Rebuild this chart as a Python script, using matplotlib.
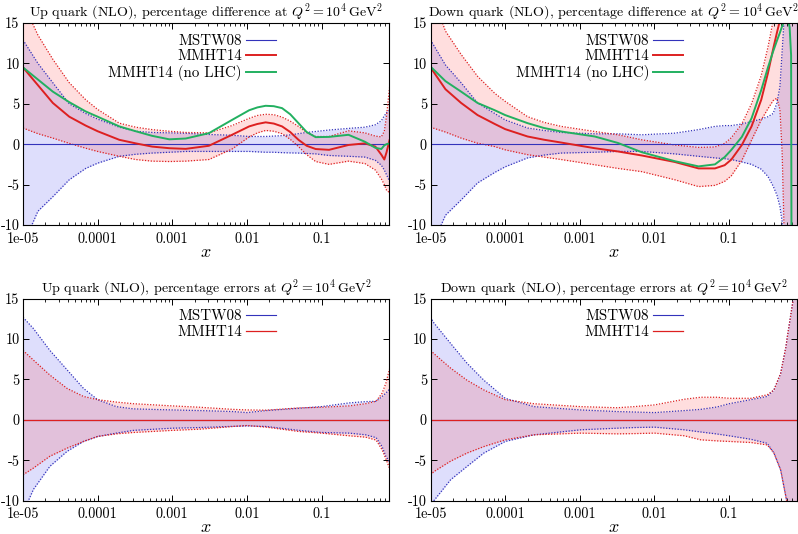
import matplotlib
matplotlib.use("Agg")
import matplotlib.pyplot as plt
import numpy as np

## MSTW08 vs MMHT14 (NLO), up/down quark at Q^2 = 10^4 GeV^2

plt.rcParams['font.family'] = 'serif'
plt.rcParams['font.serif'] = ['cmr10']
plt.rcParams['mathtext.fontset'] = 'cm'
plt.rcParams['axes.unicode_minus'] = False
plt.rcParams['axes.formatter.use_mathtext'] = True

# ---- up quark, percentage difference (log10 x grid) ----
lx_tl = [-5, -4.8, -4.6, -4.38, -4.16, -4.0, -3.71, -3.49, -3.27, -3.04, -2.82, -2.51, -2.2,
         -1.97, -1.86, -1.75, -1.64, -1.53, -1.42, -1.31, -1.2, -1.08, -0.9, -0.64, -0.42,
         -0.28, -0.2, -0.16, -0.13, -0.09]
mstw_hi_tl = [12.9, 10.0, 7.6, 5.0, 3.8, 3.1, 2.1, 1.6, 1.45, 1.4, 1.35, 1.2, 1.1,
              0.95, 0.95, 0.95, 1.0, 1.05, 1.15, 1.3, 1.45, 1.57, 1.75, 1.95, 2.1,
              2.4, 2.9, 3.5, 3.9, 4.2]
mstw_lo_tl = [-12.5, -8.3, -6.5, -4.4, -3.0, -2.35, -1.5, -1.25, -1.1, -1.0, -0.9, -0.9, -0.9,
              -0.9, -0.95, -1.0, -1.0, -1.05, -1.08, -1.1, -1.15, -1.2, -1.4, -1.5, -1.6,
              -2.0, -2.6, -3.2, -3.8, -4.6]
mmht_hi_tl = [17.5, 13.5, 10.5, 7.6, 5.5, 4.3, 2.6, 2.1, 1.8, 1.6, 1.45, 1.4, 2.3,
              3.2, 3.55, 3.7, 3.65, 3.35, 2.85, 2.2, 1.45, 0.95, 0.95, 1.65, 1.4,
              1.0, 0.9, 1.6, 3.5, 7.0]
mmht_lo_tl = [2.0, 1.3, 0.75, 0.1, -0.5, -0.9, -1.5, -1.9, -2.1, -2.15, -2.1, -1.9, -0.6,
              0.9, 1.4, 1.7, 1.6, 1.3, 0.6, -0.3, -1.3, -2.15, -2.5, -2.1, -2.4,
              -3.2, -4.3, -5.0, -5.7, -6.0]
mmht_tl = [9.5, 7.3, 5.1, 3.4, 2.3, 1.6, 0.54, 0.1, -0.3, -0.5, -0.58, -0.2, 1.16,
           2.2, 2.5, 2.7, 2.55, 2.2, 1.5, 0.54, -0.2, -0.6, -0.7, -0.1, 0.1,
           -0.3, -1.3, -1.9, -1.0, 0.5]
nolhc_tl = [9.5, 8.0, 6.5, 5.2, 4.05, 3.4, 2.2, 1.6, 1.03, 0.6, 0.7, 1.36, 3.0,
            4.2, 4.55, 4.75, 4.7, 4.46, 3.7, 2.6, 1.5, 0.87, 0.9, 1.16, 0.3,
            -0.45, -0.6, -0.15, 0.0, 0.1]

# ---- down quark, percentage difference ----
lx_tr = [-5, -4.8, -4.59, -4.37, -4.14, -4.0, -3.7, -3.48, -3.25, -2.8, -2.49, -2.17, -1.73,
         -1.41, -1.19, -1.06, -0.97, -0.83, -0.70, -0.57, -0.48, -0.41, -0.36, -0.32, -0.29,
         -0.26, -0.23, -0.19, -0.17, -0.165, -0.08]
mstw_hi_tr = [12.9, 9.8, 7.6, 5.1, 3.8, 3.0, 2.0, 1.7, 1.45, 1.28, 1.28, 1.16, 1.36,
              1.8, 2.2, 2.3, 2.3, 2.5, 2.8, 3.1, 3.4, 3.8, 5.1, 7.1, 11.5,
              16, 22, 25, 25, 25, 25]
mstw_lo_tr = [-13, -8.8, -6.9, -4.8, -3.5, -2.8, -1.7, -1.35, -1.1, -1.0, -0.9, -0.9, -1.2,
              -1.5, -1.7, -1.8, -1.9, -2.2, -2.5, -3.1, -4.0, -5.2, -6.3, -7.7, -9.6,
              -13, -16, -20, -20, -20, -20]
mmht_hi_tr = [19, 14.0, 11.1, 8.4, 6.3, 5.3, 3.4, 2.7, 2.2, 1.57, 1.16, 0.54, -0.1,
              -0.4, -0.35, 0.1, 0.8, 2.5, 5.0, 8.5, 12.0, 15.3, 18, 21, 25,
              25, 25, 25, 25, 25, 25]
mmht_lo_tr = [2.1, 1.5, 0.75, 0.12, -0.3, -0.7, -1.3, -1.6, -1.9, -2.55, -3.0, -3.4, -4.4,
              -5.25, -5.1, -4.6, -3.9, -2.0, 0.5, 3.0, 4.4, 5.4, 5.7, 4.3, -1.0,
              -12, -16, -20, -20, -20, -20]
mmht_tr = [9.5, 6.8, 5.1, 3.6, 2.5, 1.86, 0.95, 0.55, 0.2, -0.5, -0.9, -1.4, -2.2,
           -3.0, -3.0, -2.6, -1.9, -0.1, 2.2, 5.5, 8.8, 11.8, 13.8, 15.3, 17,
           20, 20, 20, 20, 20, 20]
nolhc_tr = [9.6, 7.8, 6.5, 5.1, 4.2, 3.6, 2.6, 2.0, 1.57, 0.95, 0.15, -1.0, -2.1,
            -2.75, -2.5, -1.6, -0.7, 0.9, 3.2, 6.7, 9.5, 11.5, 12.8, 13.8, 14.6,
            15.3, 16.0, 14.5, 11.0, -12, -12]

# ---- up quark, percentage errors ----
lx_bl = [-5, -4.86, -4.64, -4.41, -4.19, -4.0, -3.75, -3.52, -3.0, -2.63, -2.19, -2.0,
         -1.74, -1.3, -1.0, -0.63, -0.41, -0.27, -0.19, -0.14, -0.09]
mstw_hi_bl = [12.7, 11.3, 8.6, 6.2, 3.9, 2.5, 1.64, 1.36, 1.23, 1.15, 1.03, 0.9,
              1.15, 1.44, 1.64, 2.1, 2.26, 2.3, 2.9, 3.3, 3.8]
mstw_lo_bl = [-11.5, -8.6, -5.75, -3.9, -2.67, -2.05, -1.64, -1.3, -1.03, -0.95, -0.8, -0.74,
              -0.82, -1.3, -1.56, -1.64, -1.85, -2.2, -3.3, -4.5, -5.2]
mmht_hi_bl = [8.6, 7.4, 5.55, 3.9, 2.9, 2.5, 2.2, 2.0, 1.73, 1.56, 1.3, 1.23,
              1.2, 1.48, 1.56, 1.73, 2.0, 2.3, 3.3, 4.5, 6.3]
mmht_lo_bl = [-6.8, -5.96, -4.5, -3.5, -2.67, -2.05, -1.73, -1.56, -1.3, -1.15, -0.82, -0.7,
              -0.9, -1.44, -1.64, -1.97, -2.14, -2.5, -3.7, -4.8, -6.0]

# ---- down quark, percentage errors ----
lx_br = [-5, -4.955, -4.73, -4.51, -4.285, -4.0, -3.615, -2.99, -2.5, -2.27, -2.0, -1.6,
         -1.38, -1.16, -1.0, -0.71, -0.49, -0.40, -0.31, -0.24, -0.22, -0.13, -0.08]
mstw_hi_br = [12.7, 12.0, 9.45, 7.0, 4.9, 2.67, 1.64, 1.23, 1.03, 0.97, 0.9, 1.15,
              1.3, 1.6, 2.0, 2.5, 2.9, 3.7, 5.75, 9.0, 10.3, 15.6, 20]
mstw_lo_br = [-11, -10, -7.4, -5.75, -4.1, -2.67, -1.85, -1.23, -1.03, -0.95, -0.9, -1.23,
              -1.5, -1.75, -1.97, -2.4, -2.9, -4.1, -6.2, -9.5, -10.5, -16, -20]
mmht_hi_br = [8.6, 8.2, 6.4, 4.9, 3.7, 2.5, 2.0, 1.64, 1.5, 1.64, 1.85, 2.55,
              2.8, 2.8, 2.67, 2.67, 3.1, 3.7, 5.75, 9.0, 10.3, 15.6, 20]
mmht_lo_br = [-6.8, -6.4, -5.1, -4.1, -3.3, -2.47, -1.85, -1.64, -1.73, -1.7, -1.64, -1.97,
              -2.47, -2.6, -2.67, -2.8, -3.1, -4.1, -6.2, -9.5, -10.5, -16, -20]

xticks = [1e-5, 1e-4, 1e-3, 1e-2, 1e-1]
xtick_labels = ['1e-05', '0.0001', '0.001', '0.01', '0.1']
yticks = [-10, -5, 0, 5, 10, 15]
ytick_labels = ['-10', '-5', '0', '5', '10', '15']

blue = '#3333bb'
red = '#dd2020'
green = '#22b060'
dots = (0, (1, 1.3))


def panel(ax, title, lx, mstw_lo, mstw_hi, mmht_lo, mmht_hi, mmht=None, nolhc=None):
    x = 10.0 ** np.array(lx)
    zero = np.zeros(len(x))
    ax.fill_between(x, mstw_lo, mstw_hi, color='#0000ee', alpha=0.13, lw=0)
    ax.fill_between(x, mmht_lo, mmht_hi, color='#ff0000', alpha=0.13, lw=0)
    ax.plot(x, mstw_hi, color=blue, lw=0.9, ls=dots)
    ax.plot(x, mstw_lo, color=blue, lw=0.9, ls=dots)
    ax.plot(x, mmht_hi, color=red, lw=0.9, ls=dots)
    ax.plot(x, mmht_lo, color=red, lw=0.9, ls=dots)
    if mmht is None:
        ax.plot(x, zero, color=blue, lw=0.8, label='MSTW08')
        ax.plot(x, zero, color=red, lw=0.9, label='MMHT14')
    else:
        ax.plot(x, zero, color=blue, lw=0.8, label='MSTW08')
        ax.plot(x, mmht, color=red, lw=1.4, label='MMHT14')
        ax.plot(x, nolhc, color=green, lw=1.4, label='MMHT14 (no LHC)')

    ax.set_xscale('log')
    ax.set_xlim(1e-5, 0.8)
    ax.set_ylim(-10, 15)
    ax.set_xticks(xticks)
    ax.set_xticklabels(xtick_labels)
    ax.set_yticks(yticks)
    ax.set_yticklabels(ytick_labels)
    ax.tick_params(which='both', direction='in', top=True, right=True, labelsize=10.3)
    ax.tick_params(axis='x', pad=5)
    ax.tick_params(axis='y', pad=2.5)
    ax.tick_params(which='major', length=4, width=0.7)
    ax.tick_params(which='minor', length=2, width=0.6)
    for s in ax.spines.values():
        s.set_linewidth(0.8)
    ax.set_xlabel('$x$', fontsize=13, labelpad=-1)
    ax.set_title(title, fontsize=10.1, pad=3)
    ax.legend(loc='upper right', bbox_to_anchor=(0.69, 0.945), frameon=False,
              markerfirst=False, fontsize=10.8, handlelength=2.0, handletextpad=0.25,
              labelspacing=0.12, borderaxespad=0, borderpad=0)


fig = plt.figure(figsize=(7.98, 5.34), dpi=100)
w, h = 0.4587, 0.3783
ax1 = fig.add_axes([0.0288, 0.5787, w, h])
ax2 = fig.add_axes([0.5395, 0.5787, w, h])
ax3 = fig.add_axes([0.0288, 0.0624, w, h])
ax4 = fig.add_axes([0.5395, 0.0624, w, h])

q = r'$Q^2 = 10^4\,\mathrm{GeV}^2$'
panel(ax1, 'Up quark (NLO), percentage difference at ' + q,
      lx_tl, mstw_lo_tl, mstw_hi_tl, mmht_lo_tl, mmht_hi_tl, mmht_tl, nolhc_tl)
panel(ax2, 'Down quark (NLO), percentage difference at ' + q,
      lx_tr, mstw_lo_tr, mstw_hi_tr, mmht_lo_tr, mmht_hi_tr, mmht_tr, nolhc_tr)
panel(ax3, 'Up quark (NLO), percentage errors at ' + q,
      lx_bl, mstw_lo_bl, mstw_hi_bl, mmht_lo_bl, mmht_hi_bl)
panel(ax4, 'Down quark (NLO), percentage errors at ' + q,
      lx_br, mstw_lo_br, mstw_hi_br, mmht_lo_br, mmht_hi_br)

fig.savefig('out.png', dpi=100)
